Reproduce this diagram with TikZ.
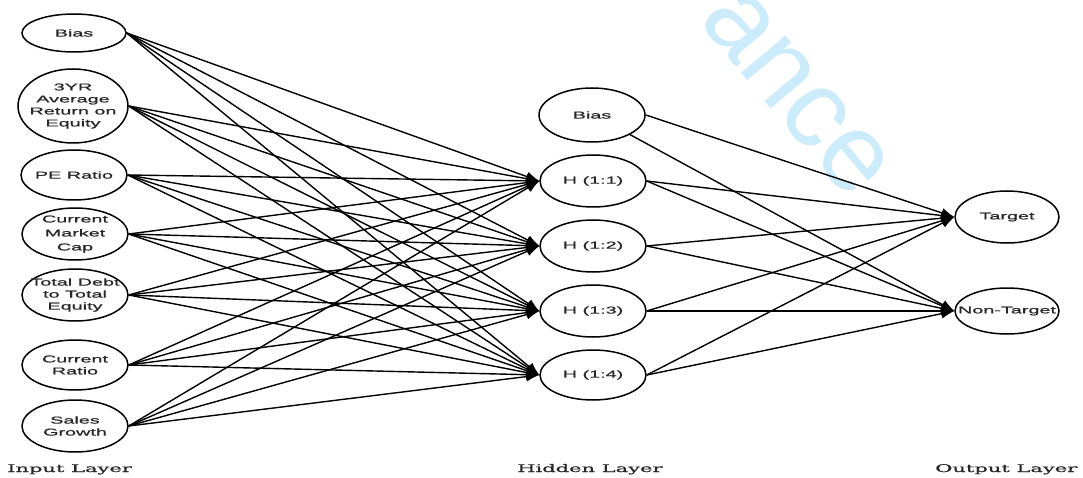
\documentclass[tikz,border=0pt]{standalone}
\usepackage{fontspec}
\setmainfont{Liberation Sans}
\newfontfamily\nodefont[FakeStretch=1.98,FakeBold=0.8]{Liberation Sans}
\newfontfamily\layerfont[FakeStretch=2.0,FakeBold=0.9]{DejaVu Serif}
\newfontfamily\wmfont{Liberation Sans}
\usetikzlibrary{shapes.geometric,arrows.meta}
\definecolor{wmblue}{RGB}{205,236,251}
\tikzset{
  neuron/.style={ellipse, draw, line width=1.5pt, inner sep=0pt,
    minimum width=106pt, minimum height=52pt},
  ntext/.style={inner sep=0pt, align=center, text=black!85,
    font=\nodefont\fontsize{10}{12}\selectfont},
  conn/.style={line width=1.4pt, -{Latex[length=13pt,width=10pt]}},
  layerlabel/.style={anchor=base west, inner sep=0pt, text=black!85,
    font=\layerfont\fontsize{10.5}{12}\selectfont},
  watermark/.style={anchor=base west, inner sep=0pt, text=wmblue, rotate=-50,
    font=\wmfont\fontsize{110}{120}\selectfont}
}
\begin{document}
\begin{tikzpicture}[x=1pt,y=-1pt]
\useasboundingbox (0,0) rectangle (1083,478);
\fill[white] (0,0) rectangle (1083,478);
% watermark
\node[watermark] (wm) at (697,20) {ance};
% input layer
\node[neuron, minimum width=104pt, minimum height=38pt] (ib) at (74,33) {};
\node[neuron, minimum width=110pt, minimum height=74pt] (i1) at (73,106) {};
\node[neuron, minimum height=50pt] (i2) at (74,175) {};
\node[neuron] (i3) at (75,234) {};
\node[neuron] (i4) at (75,295) {};
\node[neuron, minimum height=50pt] (i5) at (75,365) {};
\node[neuron] (i6) at (75,426) {};
\node[ntext] (tib) at (ib.center) {Bias};
\node[ntext] (ti1) at (i1.center) {3YR\\Average\\Return on\\Equity};
\node[ntext] (ti2) at (i2.center) {PE Ratio};
\node[ntext, font=\nodefont\fontsize{10}{14}\selectfont] (ti3) at (i3.center) {Current\\Market\\Cap};
\node[ntext] (ti4) at (i4.center) {Total Debt\\to Total\\Equity};
\node[ntext] (ti5) at (i5.center) {Current\\Ratio};
\node[ntext] (ti6) at (i6.center) {Sales\\Growth};
% hidden layer
\node[neuron, minimum height=54pt] (hb) at (592,115) {};
\node[neuron] (h1) at (593,181) {};
\node[neuron] (h2) at (593,246) {};
\node[neuron] (h3) at (593,311) {};
\node[neuron, minimum height=50pt] (h4) at (593,375) {};
\node[ntext] (thb) at (hb.center) {Bias};
\node[ntext] (th1) at (h1.center) {H (1:1)};
\node[ntext] (th2) at (h2.center) {H (1:2)};
\node[ntext] (th3) at (h3.center) {H (1:3)};
\node[ntext] (th4) at (h4.center) {H (1:4)};
% output layer
\node[neuron, minimum width=104pt] (t) at (1007,217) {};
\node[neuron, minimum width=104pt, minimum height=46pt] (nt) at (1007,311) {};
\node[ntext] (tt) at (t.center) {Target};
\node[ntext] (tnt) at (nt.center) {Non-Target};
% connections input -> hidden
\foreach \i in {ib,i1,i2,i3,i4,i5,i6}
  \foreach \h in {h1,h2,h3,h4}
    \draw[conn] (\i.east) -- (\h.west);
% connections hidden -> output
\foreach \h in {h1,h2,h3,h4} {
  \draw[conn] (\h.east) -- (t.west);
  \draw[conn] (\h.east) -- (nt.west);
}
\draw[conn] (hb.east) -- (t.west);
\draw[conn] (hb.south east) -- (nt.west);
% layer labels
\node[layerlabel] (lin) at (7,472) {Input Layer};
\node[layerlabel] (lhid) at (517,472) {Hidden Layer};
\node[layerlabel] (lout) at (935,472) {Output Layer};
\end{tikzpicture}
\end{document}
